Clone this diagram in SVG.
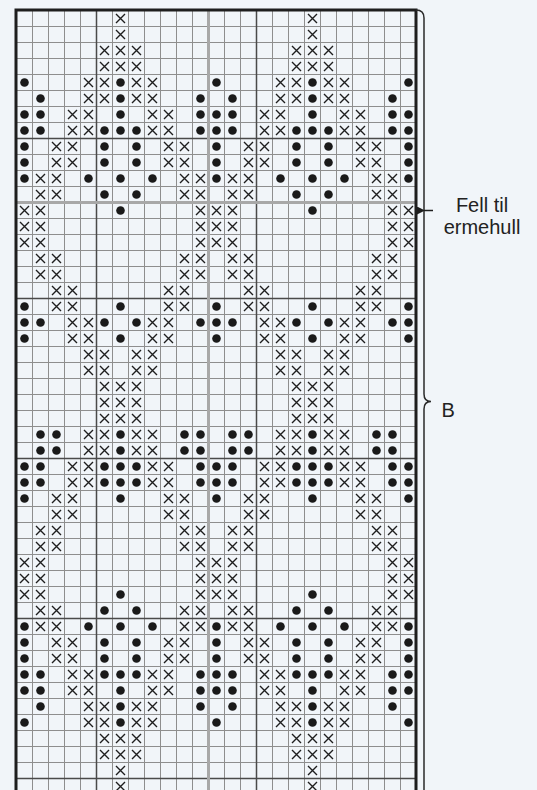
<svg xmlns="http://www.w3.org/2000/svg" xmlns:xlink="http://www.w3.org/1999/xlink" width="537" height="790" viewBox="0 0 537 790">
<style>
.thin{stroke:#8e8e8e;stroke-width:1;fill:none}
.dark{stroke:#4a4a4a;stroke-width:1.5;fill:none}
.grey{stroke:#a8a8a8;stroke-width:3;fill:none}
.border{stroke:#1e1e1e;stroke-width:3;fill:none}
.brace{stroke:#2a2a2a;stroke-width:1.5;fill:none}
.lbl{font-family:"Liberation Sans",Arial,sans-serif;font-size:20px;fill:#222}
</style>
<defs>
<path id="x" d="M-4.5-4.5L4.5 4.5M-4.5 4.5L4.5-4.5" stroke="#1e1e1e" stroke-width="1.4" fill="none"/>
<circle id="d" r="4.3" fill="#1a1a1a"/>
<marker id="ah" viewBox="0 0 8 8" refX="1" refY="4" markerWidth="8" markerHeight="8" markerUnits="userSpaceOnUse" orient="auto">
<path d="M8 0L0 4L8 8Z" fill="#1e1e1e"/>
</marker>
<g id="col0">
<use href="#d" y="64"/><use href="#d" y="96"/><use href="#d" y="112"/><use href="#d" y="128"/><use href="#d" y="144"/><use href="#d" y="160"/>
<use href="#x" y="192"/><use href="#x" y="208"/><use href="#x" y="224"/>
<use href="#d" y="288"/><use href="#d" y="304"/><use href="#d" y="320"/>
<use href="#d" y="448"/><use href="#d" y="464"/><use href="#d" y="480"/>
<use href="#x" y="544"/><use href="#x" y="560"/><use href="#x" y="576"/>
<use href="#d" y="608"/><use href="#d" y="624"/><use href="#d" y="640"/><use href="#d" y="656"/><use href="#d" y="672"/><use href="#d" y="704"/>
</g>
<g id="rest">
<use href="#x" x="96" y="0"/>
<use href="#x" x="96" y="16"/>
<use href="#x" x="80" y="32"/><use href="#x" x="96" y="32"/><use href="#x" x="112" y="32"/>
<use href="#x" x="80" y="48"/><use href="#x" x="96" y="48"/><use href="#x" x="112" y="48"/>
<use href="#x" x="64" y="64"/><use href="#x" x="80" y="64"/><use href="#d" x="96" y="64"/><use href="#x" x="112" y="64"/><use href="#x" x="128" y="64"/>
<use href="#d" x="16" y="80"/><use href="#x" x="64" y="80"/><use href="#x" x="80" y="80"/><use href="#d" x="96" y="80"/><use href="#x" x="112" y="80"/><use href="#x" x="128" y="80"/><use href="#d" x="176" y="80"/>
<use href="#d" x="16" y="96"/><use href="#x" x="48" y="96"/><use href="#x" x="64" y="96"/><use href="#d" x="96" y="96"/><use href="#x" x="128" y="96"/><use href="#x" x="144" y="96"/><use href="#d" x="176" y="96"/>
<use href="#d" x="16" y="112"/><use href="#x" x="48" y="112"/><use href="#x" x="64" y="112"/><use href="#d" x="80" y="112"/><use href="#d" x="96" y="112"/><use href="#d" x="112" y="112"/><use href="#x" x="128" y="112"/><use href="#x" x="144" y="112"/><use href="#d" x="176" y="112"/>
<use href="#x" x="32" y="128"/><use href="#x" x="48" y="128"/><use href="#d" x="80" y="128"/><use href="#d" x="112" y="128"/><use href="#x" x="144" y="128"/><use href="#x" x="160" y="128"/>
<use href="#x" x="32" y="144"/><use href="#x" x="48" y="144"/><use href="#d" x="80" y="144"/><use href="#d" x="112" y="144"/><use href="#x" x="144" y="144"/><use href="#x" x="160" y="144"/>
<use href="#x" x="16" y="160"/><use href="#x" x="32" y="160"/><use href="#d" x="64" y="160"/><use href="#d" x="96" y="160"/><use href="#d" x="128" y="160"/><use href="#x" x="160" y="160"/><use href="#x" x="176" y="160"/>
<use href="#x" x="16" y="176"/><use href="#x" x="32" y="176"/><use href="#d" x="80" y="176"/><use href="#d" x="112" y="176"/><use href="#x" x="160" y="176"/><use href="#x" x="176" y="176"/>
<use href="#x" x="16" y="192"/><use href="#d" x="96" y="192"/><use href="#x" x="176" y="192"/>
<use href="#x" x="16" y="208"/><use href="#x" x="176" y="208"/>
<use href="#x" x="16" y="224"/><use href="#x" x="176" y="224"/>
<use href="#x" x="16" y="240"/><use href="#x" x="32" y="240"/><use href="#x" x="160" y="240"/><use href="#x" x="176" y="240"/>
<use href="#x" x="16" y="256"/><use href="#x" x="32" y="256"/><use href="#x" x="160" y="256"/><use href="#x" x="176" y="256"/>
<use href="#x" x="32" y="272"/><use href="#x" x="48" y="272"/><use href="#x" x="144" y="272"/><use href="#x" x="160" y="272"/>
<use href="#x" x="32" y="288"/><use href="#x" x="48" y="288"/><use href="#d" x="96" y="288"/><use href="#x" x="144" y="288"/><use href="#x" x="160" y="288"/>
<use href="#d" x="16" y="304"/><use href="#x" x="48" y="304"/><use href="#x" x="64" y="304"/><use href="#d" x="80" y="304"/><use href="#d" x="112" y="304"/><use href="#x" x="128" y="304"/><use href="#x" x="144" y="304"/><use href="#d" x="176" y="304"/>
<use href="#x" x="48" y="320"/><use href="#x" x="64" y="320"/><use href="#d" x="96" y="320"/><use href="#x" x="128" y="320"/><use href="#x" x="144" y="320"/>
<use href="#x" x="64" y="336"/><use href="#x" x="80" y="336"/><use href="#x" x="112" y="336"/><use href="#x" x="128" y="336"/>
<use href="#x" x="64" y="352"/><use href="#x" x="80" y="352"/><use href="#x" x="112" y="352"/><use href="#x" x="128" y="352"/>
<use href="#x" x="80" y="368"/><use href="#x" x="96" y="368"/><use href="#x" x="112" y="368"/>
<use href="#x" x="80" y="384"/><use href="#x" x="96" y="384"/><use href="#x" x="112" y="384"/>
<use href="#x" x="80" y="400"/><use href="#x" x="96" y="400"/><use href="#x" x="112" y="400"/>
<use href="#d" x="16" y="416"/><use href="#d" x="32" y="416"/><use href="#x" x="64" y="416"/><use href="#x" x="80" y="416"/><use href="#d" x="96" y="416"/><use href="#x" x="112" y="416"/><use href="#x" x="128" y="416"/><use href="#d" x="160" y="416"/><use href="#d" x="176" y="416"/>
<use href="#d" x="16" y="432"/><use href="#d" x="32" y="432"/><use href="#x" x="64" y="432"/><use href="#x" x="80" y="432"/><use href="#d" x="96" y="432"/><use href="#x" x="112" y="432"/><use href="#x" x="128" y="432"/><use href="#d" x="160" y="432"/><use href="#d" x="176" y="432"/>
<use href="#d" x="16" y="448"/><use href="#x" x="48" y="448"/><use href="#x" x="64" y="448"/><use href="#d" x="80" y="448"/><use href="#d" x="96" y="448"/><use href="#d" x="112" y="448"/><use href="#x" x="128" y="448"/><use href="#x" x="144" y="448"/><use href="#d" x="176" y="448"/>
<use href="#d" x="16" y="464"/><use href="#x" x="48" y="464"/><use href="#x" x="64" y="464"/><use href="#d" x="80" y="464"/><use href="#d" x="96" y="464"/><use href="#d" x="112" y="464"/><use href="#x" x="128" y="464"/><use href="#x" x="144" y="464"/><use href="#d" x="176" y="464"/>
<use href="#x" x="32" y="480"/><use href="#x" x="48" y="480"/><use href="#d" x="96" y="480"/><use href="#x" x="144" y="480"/><use href="#x" x="160" y="480"/>
<use href="#x" x="32" y="496"/><use href="#x" x="48" y="496"/><use href="#x" x="144" y="496"/><use href="#x" x="160" y="496"/>
<use href="#x" x="16" y="512"/><use href="#x" x="32" y="512"/><use href="#x" x="160" y="512"/><use href="#x" x="176" y="512"/>
<use href="#x" x="16" y="528"/><use href="#x" x="32" y="528"/><use href="#x" x="160" y="528"/><use href="#x" x="176" y="528"/>
<use href="#x" x="16" y="544"/><use href="#x" x="176" y="544"/>
<use href="#x" x="16" y="560"/><use href="#x" x="176" y="560"/>
<use href="#x" x="16" y="576"/><use href="#d" x="96" y="576"/><use href="#x" x="176" y="576"/>
<use href="#x" x="16" y="592"/><use href="#x" x="32" y="592"/><use href="#d" x="80" y="592"/><use href="#d" x="112" y="592"/><use href="#x" x="160" y="592"/><use href="#x" x="176" y="592"/>
<use href="#x" x="16" y="608"/><use href="#x" x="32" y="608"/><use href="#d" x="64" y="608"/><use href="#d" x="96" y="608"/><use href="#d" x="128" y="608"/><use href="#x" x="160" y="608"/><use href="#x" x="176" y="608"/>
<use href="#x" x="32" y="624"/><use href="#x" x="48" y="624"/><use href="#d" x="80" y="624"/><use href="#d" x="112" y="624"/><use href="#x" x="144" y="624"/><use href="#x" x="160" y="624"/>
<use href="#x" x="32" y="640"/><use href="#x" x="48" y="640"/><use href="#d" x="80" y="640"/><use href="#d" x="112" y="640"/><use href="#x" x="144" y="640"/><use href="#x" x="160" y="640"/>
<use href="#d" x="16" y="656"/><use href="#x" x="48" y="656"/><use href="#x" x="64" y="656"/><use href="#d" x="80" y="656"/><use href="#d" x="96" y="656"/><use href="#d" x="112" y="656"/><use href="#x" x="128" y="656"/><use href="#x" x="144" y="656"/><use href="#d" x="176" y="656"/>
<use href="#d" x="16" y="672"/><use href="#x" x="48" y="672"/><use href="#x" x="64" y="672"/><use href="#d" x="96" y="672"/><use href="#x" x="128" y="672"/><use href="#x" x="144" y="672"/><use href="#d" x="176" y="672"/>
<use href="#d" x="16" y="688"/><use href="#x" x="64" y="688"/><use href="#x" x="80" y="688"/><use href="#d" x="96" y="688"/><use href="#x" x="112" y="688"/><use href="#x" x="128" y="688"/><use href="#d" x="176" y="688"/>
<use href="#x" x="64" y="704"/><use href="#x" x="80" y="704"/><use href="#d" x="96" y="704"/><use href="#x" x="112" y="704"/><use href="#x" x="128" y="704"/>
<use href="#x" x="80" y="720"/><use href="#x" x="96" y="720"/><use href="#x" x="112" y="720"/>
<use href="#x" x="80" y="736"/><use href="#x" x="96" y="736"/><use href="#x" x="112" y="736"/>
<use href="#x" x="96" y="752"/>
<use href="#x" x="96" y="768"/>
</g>
</defs>
<rect width="537" height="790" fill="#f1f5f9"/>
<g id="grid">
<path class="thin" d="M32.5 10.5V790M48.5 10.5V790M64.5 10.5V790M80.5 10.5V790M96.5 10.5V790M112.5 10.5V790M128.5 10.5V790M144.5 10.5V790M160.5 10.5V790M176.5 10.5V790M192.5 10.5V790M224.5 10.5V790M240.5 10.5V790M256.5 10.5V790M272.5 10.5V790M288.5 10.5V790M304.5 10.5V790M320.5 10.5V790M336.5 10.5V790M352.5 10.5V790M368.5 10.5V790M384.5 10.5V790M400.5 10.5V790
M16.5 26.5H416.5M16.5 42.5H416.5M16.5 58.5H416.5M16.5 74.5H416.5M16.5 90.5H416.5M16.5 106.5H416.5M16.5 122.5H416.5M16.5 154.5H416.5M16.5 170.5H416.5M16.5 186.5H416.5M16.5 218.5H416.5M16.5 234.5H416.5M16.5 250.5H416.5M16.5 266.5H416.5M16.5 282.5H416.5M16.5 314.5H416.5M16.5 330.5H416.5M16.5 346.5H416.5M16.5 362.5H416.5M16.5 378.5H416.5M16.5 394.5H416.5M16.5 410.5H416.5M16.5 426.5H416.5M16.5 442.5H416.5M16.5 474.5H416.5M16.5 490.5H416.5M16.5 506.5H416.5M16.5 522.5H416.5M16.5 538.5H416.5M16.5 554.5H416.5M16.5 570.5H416.5M16.5 586.5H416.5M16.5 602.5H416.5M16.5 634.5H416.5M16.5 650.5H416.5M16.5 666.5H416.5M16.5 682.5H416.5M16.5 698.5H416.5M16.5 714.5H416.5M16.5 730.5H416.5M16.5 746.5H416.5M16.5 762.5H416.5"/>
<path class="dark" d="M96.5 10.5V790M256.5 10.5V790M16.5 138.5H416.5M16.5 298.5H416.5M16.5 458.5H416.5M16.5 618.5H416.5M16.5 778.5H416.5"/>
<path class="grey" d="M208.5 10.5V790M16.5 202.5H416.5"/>
</g>
<g id="stitches" transform="translate(24.5 18.5)">
<use href="#col0"/><use href="#col0" x="192"/><use href="#col0" x="384"/>
<use href="#rest"/><use href="#rest" x="192"/>
</g>
<path id="frame" class="border" d="M16 790V10H416V790"/>
<g id="annotations">
<path class="brace" d="M416 10Q424 10 424 18V394Q424 401.5 431 401.5Q424 401.5 424 409V790"/>
<path d="M433 210.5H424" stroke="#1e1e1e" stroke-width="1.5" marker-end="url(#ah)"/>
<text class="lbl" x="482" y="212.3" text-anchor="middle">Fell til</text>
<text class="lbl" x="482" y="234" text-anchor="middle">ermehull</text>
<text class="lbl" x="441.5" y="417.3">B</text>
</g>
</svg>
